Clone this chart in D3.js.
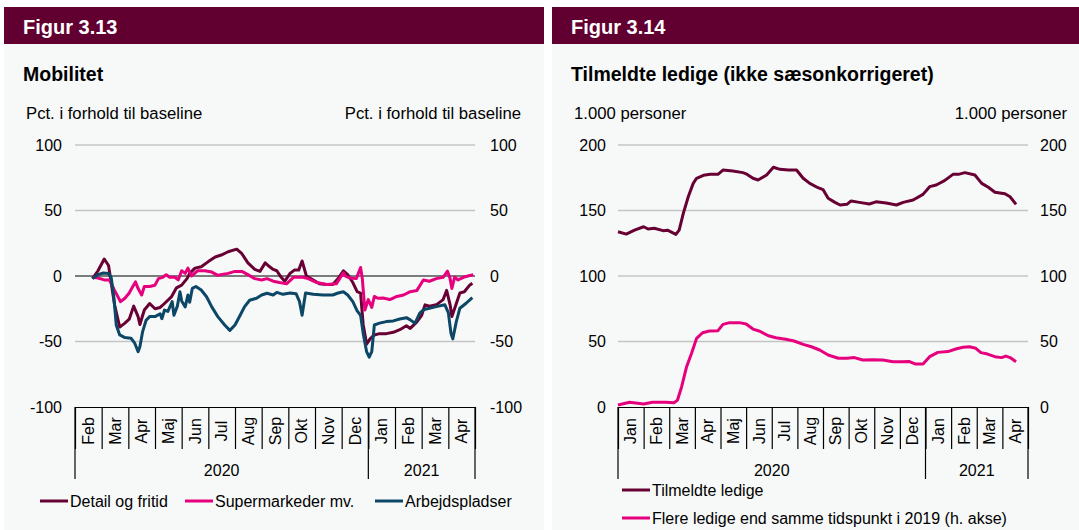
<!DOCTYPE html>
<html>
<head>
<meta charset="utf-8">
<script src="https://cdn.jsdelivr.net/npm/d3@7"></script>
<style>
  body { margin: 0; background: #ffffff; }
  text { font-family: "Liberation Sans", Arial, sans-serif; fill: #000; }
</style>
</head>
<body>
<svg id="chart" width="1079" height="530"></svg>
<script>
// ---- data ----

// Figur 3.13, mobilitet (pct. i forhold til baseline)
const detailFritid = [
  ["2020-02-20", -2], ["2020-02-26", 4], ["2020-03-04", 13], ["2020-03-09", 8],
  ["2020-03-16", -22], ["2020-03-22", -39], ["2020-03-28", -36], ["2020-04-02", -33],
  ["2020-04-07", -23], ["2020-04-12", -31], ["2020-04-14", -37], ["2020-04-19", -26],
  ["2020-04-25", -21], ["2020-05-01", -25], ["2020-05-07", -24], ["2020-05-12", -21],
  ["2020-05-20", -16], ["2020-05-26", -9], ["2020-06-01", -7], ["2020-06-07", -2],
  ["2020-06-10", 2], ["2020-06-16", 6], ["2020-06-23", 7], ["2020-07-01", 11],
  ["2020-07-09", 14.5], ["2020-07-16", 16], ["2020-07-24", 18.5], ["2020-08-03", 20.5],
  ["2020-08-09", 17], ["2020-08-16", 10], ["2020-08-24", 5], ["2020-08-30", 3.5],
  ["2020-09-05", 10], ["2020-09-10", 7], ["2020-09-14", 5], ["2020-09-18", 4],
  ["2020-09-23", -1], ["2020-09-27", -4], ["2020-10-03", 2], ["2020-10-08", 4.5],
  ["2020-10-13", 4.5], ["2020-10-17", 11.5], ["2020-10-22", 0], ["2020-10-30", -3],
  ["2020-11-06", -6], ["2020-11-14", -6.5], ["2020-11-21", -6.5], ["2020-11-27", -2],
  ["2020-12-03", 4], ["2020-12-08", 1], ["2020-12-14", -5], ["2020-12-19", -12],
  ["2020-12-23", -13], ["2020-12-26", -37], ["2020-12-30", -52], ["2021-01-03", -48],
  ["2021-01-08", -45], ["2021-01-14", -44], ["2021-01-22", -44], ["2021-01-30", -43],
  ["2021-02-06", -41], ["2021-02-13", -38], ["2021-02-17", -40], ["2021-02-24", -35],
  ["2021-03-01", -30], ["2021-03-05", -22], ["2021-03-10", -23], ["2021-03-18", -22],
  ["2021-03-26", -18], ["2021-03-30", -11], ["2021-04-03", -22], ["2021-04-05", -31],
  ["2021-04-10", -21], ["2021-04-14", -13], ["2021-04-19", -12], ["2021-04-25", -7],
  ["2021-04-28", -5.5]
];

const supermarkeder = [
  ["2020-02-20", -1], ["2020-02-26", -1.5], ["2020-03-04", -3], ["2020-03-10", -3],
  ["2020-03-16", -11], ["2020-03-23", -19.6], ["2020-03-28", -17], ["2020-04-02", -13],
  ["2020-04-06", -8], ["2020-04-09", -4.5], ["2020-04-12", -9.6], ["2020-04-16", -14.5],
  ["2020-04-19", -8], ["2020-04-25", -8], ["2020-05-01", -7], ["2020-05-05", -2],
  ["2020-05-10", -1], ["2020-05-14", 1], ["2020-05-18", -1], ["2020-05-24", -1],
  ["2020-05-28", -3], ["2020-06-01", 4], ["2020-06-05", 2], ["2020-06-08", 6],
  ["2020-06-12", 0], ["2020-06-19", 4], ["2020-06-27", 4], ["2020-07-05", 3],
  ["2020-07-12", 0.5], ["2020-07-24", 2], ["2020-08-01", 3.5], ["2020-08-09", 3.5],
  ["2020-08-16", 1], ["2020-08-24", -2], ["2020-09-01", -3], ["2020-09-07", -2],
  ["2020-09-14", -4], ["2020-09-21", -5], ["2020-09-29", -6], ["2020-10-07", -1],
  ["2020-10-18", -1], ["2020-10-24", -2], ["2020-11-03", -5], ["2020-11-14", -6.5],
  ["2020-11-25", -6], ["2020-12-03", 2.5], ["2020-12-05", 0], ["2020-12-10", -1.5],
  ["2020-12-18", -2], ["2020-12-23", 6.5], ["2020-12-25", -2], ["2020-12-28", -26],
  ["2021-01-01", -18], ["2021-01-05", -24], ["2021-01-08", -15.6], ["2021-01-12", -17],
  ["2021-01-18", -16.8], ["2021-01-26", -18], ["2021-02-03", -15.6], ["2021-02-10", -14.5],
  ["2021-02-17", -12], ["2021-02-24", -11], ["2021-03-03", -3], ["2021-03-10", -4],
  ["2021-03-18", -2], ["2021-03-26", -1], ["2021-03-31", 3.7], ["2021-04-03", -2],
  ["2021-04-05", -9.5], ["2021-04-08", -1], ["2021-04-12", -3], ["2021-04-18", -1],
  ["2021-04-23", 0], ["2021-04-29", 1]
];

const arbejdspladser = [
  ["2020-02-20", -2], ["2020-02-26", 1], ["2020-03-03", 2.3], ["2020-03-09", 2],
  ["2020-03-12", -1], ["2020-03-15", -15], ["2020-03-18", -37.6], ["2020-03-22", -45],
  ["2020-03-28", -47], ["2020-04-04", -47.5], ["2020-04-08", -51], ["2020-04-12", -57.8],
  ["2020-04-14", -54], ["2020-04-17", -42.7], ["2020-04-21", -33.8], ["2020-04-25", -31],
  ["2020-05-01", -31], ["2020-05-07", -28.8], ["2020-05-09", -32.6], ["2020-05-12", -26],
  ["2020-05-16", -27], ["2020-05-21", -19.6], ["2020-05-23", -30], ["2020-05-27", -23],
  ["2020-05-30", -12], ["2020-06-01", -19], ["2020-06-05", -23.6], ["2020-06-08", -14.5],
  ["2020-06-10", -20], ["2020-06-13", -9.4], ["2020-06-17", -8], ["2020-06-23", -10.7],
  ["2020-06-29", -15.8], ["2020-07-05", -23.6], ["2020-07-12", -31], ["2020-07-20", -37.4],
  ["2020-07-26", -41.5], ["2020-08-01", -37.4], ["2020-08-07", -30], ["2020-08-12", -23.6],
  ["2020-08-18", -18.5], ["2020-08-26", -17], ["2020-09-01", -14.5], ["2020-09-07", -13.2],
  ["2020-09-14", -14.5], ["2020-09-18", -12.5], ["2020-09-25", -14], ["2020-10-03", -13],
  ["2020-10-10", -13.5], ["2020-10-14", -19.6], ["2020-10-17", -30], ["2020-10-21", -13],
  ["2020-10-30", -14], ["2020-11-10", -14.5], ["2020-11-21", -14.5], ["2020-11-27", -13],
  ["2020-12-03", -12], ["2020-12-08", -14.5], ["2020-12-14", -19.6], ["2020-12-19", -26.6],
  ["2020-12-23", -30], ["2020-12-26", -43.8], ["2020-12-30", -57.8], ["2021-01-02", -62],
  ["2021-01-05", -57.8], ["2021-01-08", -37.4], ["2021-01-14", -36], ["2021-01-22", -34.8],
  ["2021-01-30", -34.3], ["2021-02-06", -32.8], ["2021-02-13", -31.8], ["2021-02-17", -33.5],
  ["2021-02-22", -36], ["2021-02-27", -28.4], ["2021-03-03", -25.8], ["2021-03-10", -24.6],
  ["2021-03-18", -23.4], ["2021-03-28", -22], ["2021-04-01", -28], ["2021-04-04", -43.8],
  ["2021-04-06", -48], ["2021-04-10", -34.8], ["2021-04-14", -24.6], ["2021-04-21", -20.8],
  ["2021-04-28", -16.5]
];

// Figur 3.14, 1.000 personer
const tilmeldteLedige = [
  ["2020-01-01", 133.8], ["2020-01-11", 132], ["2020-01-21", 135], ["2020-02-01", 137.6],
  ["2020-02-06", 135.9], ["2020-02-13", 136.4], ["2020-02-23", 134.6], ["2020-02-28", 135],
  ["2020-03-09", 131.8], ["2020-03-13", 135], ["2020-03-18", 147.8], ["2020-03-24", 160.5],
  ["2020-03-30", 170.7], ["2020-04-03", 174.6], ["2020-04-11", 176.9], ["2020-04-19", 177.6],
  ["2020-04-28", 177.6], ["2020-05-04", 180.9], ["2020-05-16", 180.2], ["2020-05-28", 178.9],
  ["2020-06-01", 178], ["2020-06-09", 174.6], ["2020-06-15", 173.3], ["2020-06-25", 177.1],
  ["2020-07-03", 183], ["2020-07-11", 181.4], ["2020-07-21", 180.9], ["2020-07-31", 180.9],
  ["2020-08-08", 174.6], ["2020-08-16", 170.7], ["2020-08-26", 167.4], ["2020-09-01", 166],
  ["2020-09-07", 159.3], ["2020-09-15", 156.2], ["2020-09-21", 154.2], ["2020-09-29", 154.7],
  ["2020-10-04", 157.3], ["2020-10-14", 156.2], ["2020-10-26", 155], ["2020-11-03", 156.6],
  ["2020-11-15", 155.7], ["2020-11-27", 154.2], ["2020-12-05", 156.2], ["2020-12-17", 158],
  ["2020-12-29", 162.3], ["2021-01-06", 168.2], ["2021-01-14", 169.5], ["2021-01-24", 172.8],
  ["2021-02-03", 177.6], ["2021-02-09", 177.6], ["2021-02-16", 178.9], ["2021-02-27", 177.1],
  ["2021-03-07", 170.7], ["2021-03-15", 167.7], ["2021-03-23", 163.9], ["2021-04-04", 162.8],
  ["2021-04-10", 160.5], ["2021-04-17", 154.7]
];

const flereLedige = [
  ["2020-01-01", 1.5], ["2020-01-15", 3.6], ["2020-02-01", 2.3], ["2020-02-11", 3.6],
  ["2020-02-26", 3.6], ["2020-03-07", 3.3], ["2020-03-11", 5.3], ["2020-03-16", 15.5],
  ["2020-03-22", 30.8], ["2020-03-28", 41], ["2020-04-03", 52.4], ["2020-04-10", 56.7],
  ["2020-04-18", 58], ["2020-04-28", 58.3], ["2020-05-04", 63.1], ["2020-05-12", 64.4],
  ["2020-05-24", 64.4], ["2020-06-01", 63.4], ["2020-06-09", 59.5], ["2020-06-17", 57.8],
  ["2020-06-27", 54.4], ["2020-07-06", 52.9], ["2020-07-18", 51.7], ["2020-07-28", 50.4],
  ["2020-08-08", 47.8], ["2020-08-18", 46], ["2020-08-28", 43.5], ["2020-09-07", 39.7],
  ["2020-09-19", 37.2], ["2020-09-29", 37.2], ["2020-10-08", 37.7], ["2020-10-18", 35.9],
  ["2020-10-30", 36.1], ["2020-11-11", 35.9], ["2020-11-23", 34.6], ["2020-12-03", 34.6],
  ["2020-12-12", 34.8], ["2020-12-20", 32.8], ["2020-12-29", 32.8], ["2021-01-06", 38.4],
  ["2021-01-16", 41.7], ["2021-01-28", 42.3], ["2021-02-07", 44.5], ["2021-02-14", 45.6],
  ["2021-02-21", 46], ["2021-02-28", 44.8], ["2021-03-06", 41.5], ["2021-03-14", 40.4],
  ["2021-03-23", 38.4], ["2021-03-31", 37.7], ["2021-04-05", 38.9], ["2021-04-10", 37.7],
  ["2021-04-17", 34.6]
];

const monthNames = ["Jan", "Feb", "Mar", "Apr", "Maj", "Jun", "Jul", "Aug", "Sep", "Okt", "Nov", "Dec"];
const mobilitetTicks = [-100, -50, 0, 50, 100];
const ledigeTicks = [0, 50, 100, 150, 200];

const colors = { maroon: "#680034", pink: "#e6007e", teal: "#0c4766", header: "#610030" };
const parseDate = d3.timeParse("%Y-%m-%d");

const svg = d3.select("#chart");

drawPanel({
  left: 4, width: 540,
  figur: "Figur 3.13", title: "Mobilitet",
  unitLeft: "Pct. i forhold til baseline", unitRight: "Pct. i forhold til baseline",
  unitRightEnd: 521,
  start: new Date(2020, 1, 1), end: new Date(2021, 4, 1),
  plotX: [75, 475], yDomain: [-100, 100], ticks: mobilitetTicks, zeroLine: true,
  labelPad: [13, 15],
  series: [
    { name: "Detail og fritid", data: detailFritid, color: colors.maroon },
    { name: "Supermarkeder mv.", data: supermarkeder, color: colors.pink },
    { name: "Arbejdspladser", data: arbejdspladser, color: colors.teal }
  ],
  legend: [{ x: 40, y: 501 }, { x: 185, y: 501 }, { x: 375, y: 501 }]
});

drawPanel({
  left: 552, width: 527,
  figur: "Figur 3.14", title: "Tilmeldte ledige (ikke sæsonkorrigeret)",
  unitLeft: "1.000 personer", unitRight: "1.000 personer",
  unitRightEnd: 1067,
  start: new Date(2020, 0, 1), end: new Date(2021, 4, 1),
  plotX: [618, 1028], yDomain: [0, 200], ticks: ledigeTicks, zeroLine: false,
  labelPad: [12, 12],
  series: [
    { name: "Tilmeldte ledige", data: tilmeldteLedige, color: colors.maroon },
    { name: "Flere ledige end samme tidspunkt i 2019 (h. akse)", data: flereLedige, color: colors.pink }
  ],
  legend: [{ x: 622, y: 490 }, { x: 622, y: 518 }]
});

function drawPanel(opt) {
  const g = svg.append("g");
  const top = 145, bottom = 407;

  g.append("rect").attr("x", opt.left).attr("y", 44).attr("width", opt.width).attr("height", 486)
    .attr("fill", "#f7f9f9");
  g.append("rect").attr("x", opt.left).attr("y", 7).attr("width", opt.width).attr("height", 37)
    .attr("fill", colors.header);
  g.append("text").attr("x", opt.left + 19).attr("y", 34)
    .style("font-size", "20px").style("font-weight", "bold").style("fill", "#fff")
    .text(opt.figur);
  g.append("text").attr("x", opt.left + 19).attr("y", 81)
    .style("font-size", "19.5px").style("font-weight", "bold")
    .text(opt.title);
  g.append("text").attr("x", opt.left + 22).attr("y", 119)
    .style("font-size", "16.7px").text(opt.unitLeft);
  g.append("text").attr("x", opt.unitRightEnd).attr("y", 119)
    .attr("text-anchor", "end").style("font-size", "16.7px").text(opt.unitRight);

  // month scale with equal width per month
  const months = d3.timeMonth.range(opt.start, d3.timeDay.offset(opt.end, 1));
  const step = (opt.plotX[1] - opt.plotX[0]) / (months.length - 1);
  const x = d3.scaleTime()
    .domain(months)
    .range(months.map((d, i) => opt.plotX[0] + i * step));
  const y = d3.scaleLinear().domain(opt.yDomain).range([bottom, top]);

  // gridlines
  g.append("g")
    .selectAll("line")
    .data(opt.ticks.filter(t => t !== opt.yDomain[0]))
    .enter().append("line")
    .attr("x1", opt.plotX[0]).attr("x2", opt.plotX[1])
    .attr("y1", d => y(d)).attr("y2", d => y(d))
    .attr("stroke", d => (opt.zeroLine && d === 0) ? "#000" : "#c4c4c4")
    .attr("stroke-width", d => (opt.zeroLine && d === 0) ? 1.2 : 1.5);

  // y axes both sides, plain hyphen for negatives
  const fmt = d => String(d);
  const yLeft = g.append("g")
    .attr("transform", "translate(" + opt.plotX[0] + ",0)")
    .call(d3.axisLeft(y).tickValues(opt.ticks).tickSize(0).tickPadding(opt.labelPad[0]).tickFormat(fmt));
  const yRight = g.append("g")
    .attr("transform", "translate(" + opt.plotX[1] + ",0)")
    .call(d3.axisRight(y).tickValues(opt.ticks).tickSize(0).tickPadding(opt.labelPad[1]).tickFormat(fmt));
  [yLeft, yRight].forEach(a => {
    a.select(".domain").remove();
    a.selectAll("text").style("font-size", "16px").attr("font-family", null);
  });

  // x axis: month ticks
  const xAxis = g.append("g")
    .attr("transform", "translate(0," + bottom + ")")
    .call(d3.axisBottom(x).tickValues(months).tickSize(42).tickSizeOuter(0).tickFormat(""));
  xAxis.select(".domain").attr("stroke", "#000").attr("stroke-width", 1.2);
  xAxis.selectAll(".tick line").attr("stroke", "#000").attr("stroke-width", 1.2);

  // rotated month labels
  g.append("g")
    .selectAll("text")
    .data(months.slice(0, -1))
    .enter().append("text")
    .attr("transform", (d, i) => "translate(" + (x(d) + step / 2) + ",431) rotate(-90)")
    .attr("text-anchor", "middle")
    .attr("dy", "0.35em")
    .style("font-size", "16px")
    .text(d => monthNames[d.getMonth()]);

  // year groups
  const years = d3.groups(months.slice(0, -1), d => d.getFullYear());
  const yearEdges = [opt.start].concat(years.map(yr => d3.timeMonth.offset(yr[1][yr[1].length - 1], 1)));
  g.append("g")
    .selectAll("line")
    .data(yearEdges)
    .enter().append("line")
    .attr("x1", d => x(d)).attr("x2", d => x(d))
    .attr("y1", bottom).attr("y2", 479)
    .attr("stroke", "#000").attr("stroke-width", 1.2);
  g.append("g")
    .selectAll("text")
    .data(years)
    .enter().append("text")
    .attr("x", (d, i) => (x(yearEdges[i]) + x(yearEdges[i + 1])) / 2)
    .attr("y", 476)
    .attr("text-anchor", "middle")
    .style("font-size", "16px")
    .text(d => d[0]);

  // lines
  const line = d3.line()
    .x(d => x(parseDate(d[0])))
    .y(d => y(d[1]));
  g.append("g")
    .selectAll("path")
    .data(opt.series)
    .enter().append("path")
    .attr("d", d => line(d.data))
    .attr("fill", "none")
    .attr("stroke", d => d.color)
    .attr("stroke-width", 3)
    .attr("stroke-linejoin", "round");

  // legend
  const lg = g.append("g")
    .selectAll("g")
    .data(opt.series)
    .enter().append("g")
    .attr("transform", (d, i) => "translate(" + opt.legend[i].x + "," + opt.legend[i].y + ")");
  lg.append("line")
    .attr("x1", 0).attr("x2", 28)
    .attr("stroke", d => d.color).attr("stroke-width", 3);
  lg.append("text")
    .attr("x", 30).attr("dy", "0.35em")
    .style("font-size", "16px")
    .text(d => d.name);
}
</script>
</body>
</html>
